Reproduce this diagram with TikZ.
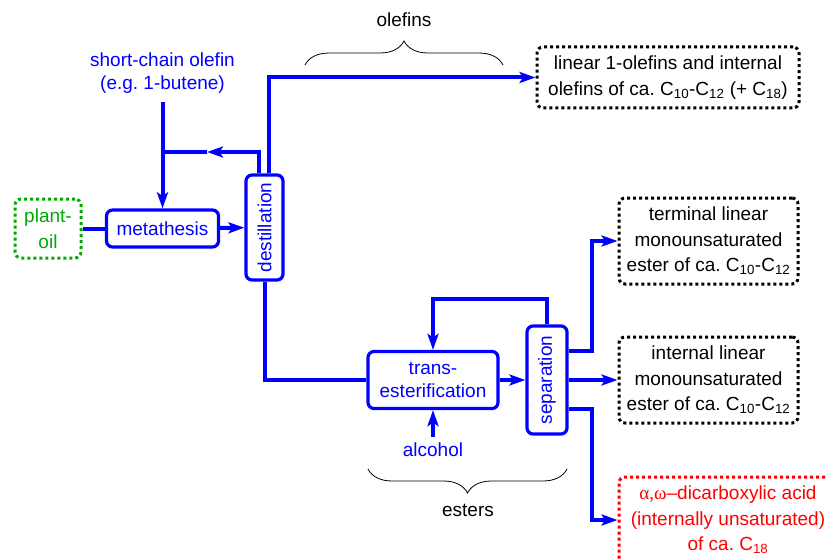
\documentclass[tikz,border=0pt]{standalone}
\usepackage{fontspec}
\setmainfont{Liberation Sans}
\newfontfamily\greekfont{Liberation Serif}
\usetikzlibrary{arrows.meta,decorations.pathreplacing,calc}
\definecolor{flowblue}{RGB}{0,0,255}
\definecolor{oilgreen}{RGB}{0,170,0}
\definecolor{acidred}{RGB}{255,0,0}
\tikzset{
  flow line/.style={line width=4pt,draw=flowblue},
  flow arrow/.style={flow line,-{Stealth[length=16pt,width=11pt,inset=3.5pt]}},
  flow step/.style={draw=flowblue,line width=3.2pt,rounded corners=6pt,text=flowblue,align=center,inner sep=0pt},
  flow input/.style={text=flowblue,align=center},
  flow product/.style={draw=black,line width=3pt,dash pattern=on 3pt off 3pt,rounded corners=6pt,align=center,inner sep=0pt,font=\fontsize{19}{25.5}\selectfont\frenchspacing},
  flow brace/.style={decorate,decoration={brace,amplitude=24pt},line width=0.8pt,draw=black},
  flow note/.style={text=black}
}

\begin{document}
\begin{tikzpicture}[x=1pt,y=-1pt,font=\fontsize{19}{23}\selectfont\frenchspacing]
  \clip (0,0) rectangle (826,559);

  \node[flow product,draw=oilgreen,text=oilgreen,minimum width=66,minimum height=59] (plant) at (48,228.5) {plant-\\oil};
  \node[flow step,minimum width=112,minimum height=37] (meta) at (162.5,228.5) {metathesis};
  \node[flow step,minimum width=37,minimum height=105] (dest) at (264.5,227.5) {\rotatebox{90}{destillation}};
  \node[flow input,inner sep=8pt] (olefin) at (162.5,73) {short-chain olefin\\(e.g. 1-butene)};
  \node[flow step,minimum width=130,minimum height=57] (trans) at (433,380) {trans-\\esterification};
  \node[flow step,minimum width=40,minimum height=108] (sep) at (547,380) {\rotatebox{90}{separation}};
  \node[flow input,inner sep=6pt] (alcohol) at (433,450) {alcohol};

  \node[flow product,minimum width=262,minimum height=61] (lin) at (668,77.5)
    {linear 1-olefins and internal\\olefins of ca. C\textsubscript{10}-C\textsubscript{12} (+ C\textsubscript{18})};
  \node[flow product,minimum width=179,minimum height=86] (term) at (708.5,241)
    {terminal linear\\monounsaturated\\ester of ca. C\textsubscript{10}-C\textsubscript{12}};
  \node[flow product,minimum width=179,minimum height=86] (int) at (708.5,380)
    {internal linear\\monounsaturated\\ester of ca. C\textsubscript{10}-C\textsubscript{12}};
  \node[flow product,draw=acidred,text=acidred,minimum width=218,minimum height=86] (acid) at (728,520)
    {{\greekfont α,ω}–dicarboxylic acid\\(internally unsaturated)\\of ca. C\textsubscript{18}};

  \draw[flow brace] (305,65) -- (503,65);
  \node[flow note] (olefins) at (404,20) {olefins};
  \draw[flow brace] (567,469) -- (368,469);
  \node[flow note] (esters) at (468,510) {esters};

  \coordinate (recycle mid) at (207,152);
  \coordinate (recycle) at (162.5,152);

  \draw[flow line] (plant) -- (meta);
  \draw[flow arrow] (meta) -- (dest);
  \draw[flow arrow] ([xshift=-5.5pt]dest.north) |- (recycle mid);
  \draw[flow line] (recycle mid) -- (recycle);
  \draw[flow arrow] (olefin) -- (meta);
  \draw[flow arrow] ([xshift=4.5pt]dest.north) |- (lin.west);
  \draw[flow line] (dest.south) |- (trans.west);
  \draw[flow arrow] (trans) -- (sep);
  \draw[flow arrow] (sep.north) -- ++(0,-25) -| (trans.north);
  \draw[flow arrow] (alcohol) -- (trans);
  \draw[flow arrow] ($(sep.east)+(0,-29)$) -- ++(23,0) |- (term.west);
  \draw[flow arrow] (sep) -- (int);
  \draw[flow arrow] ($(sep.east)+(0,29)$) -- ++(23,0) |- (acid.west);
\end{tikzpicture}
\end{document}
